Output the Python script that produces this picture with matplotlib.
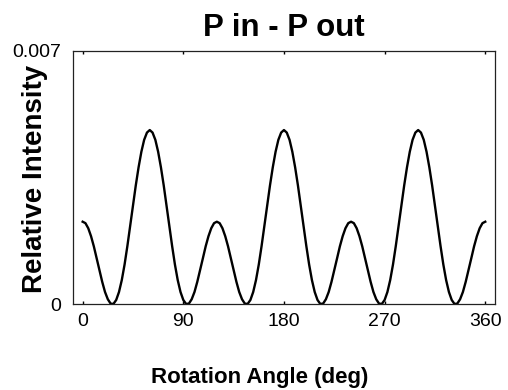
import matplotlib
matplotlib.use("Agg")
import matplotlib.pyplot as plt

plt.rcParams['font.family'] = ['Liberation Sans', 'DejaVu Sans']

# Rotation angle (deg), sampled every 2.5 degrees
angle = [i * 2.5 for i in range(145)]

# Relative SHG intensity, P-polarized in / P-polarized out
intensity = [
    # 0 - 117.5
    0.00228, 0.00224, 0.00210, 0.00188, 0.00160, 0.00127, 0.00094, 0.00062,
    0.00034, 0.00014, 0.00002, 0.00001, 0.00012, 0.00034, 0.00067, 0.00110,
    0.00161, 0.00216, 0.00272, 0.00328, 0.00378, 0.00421, 0.00454, 0.00474,
    0.00481, 0.00474, 0.00454, 0.00421, 0.00378, 0.00328, 0.00272, 0.00216,
    0.00161, 0.00110, 0.00067, 0.00034, 0.00012, 0.00001, 0.00002, 0.00014,
    0.00034, 0.00062, 0.00094, 0.00127, 0.00160, 0.00188, 0.00210, 0.00224,
    # 120 - 237.5
    0.00228, 0.00224, 0.00210, 0.00188, 0.00160, 0.00127, 0.00094, 0.00062,
    0.00034, 0.00014, 0.00002, 0.00001, 0.00012, 0.00034, 0.00067, 0.00110,
    0.00161, 0.00216, 0.00272, 0.00328, 0.00378, 0.00421, 0.00454, 0.00474,
    0.00481, 0.00474, 0.00454, 0.00421, 0.00378, 0.00328, 0.00272, 0.00216,
    0.00161, 0.00110, 0.00067, 0.00034, 0.00012, 0.00001, 0.00002, 0.00014,
    0.00034, 0.00062, 0.00094, 0.00127, 0.00160, 0.00188, 0.00210, 0.00224,
    # 240 - 360
    0.00228, 0.00224, 0.00210, 0.00188, 0.00160, 0.00127, 0.00094, 0.00062,
    0.00034, 0.00014, 0.00002, 0.00001, 0.00012, 0.00034, 0.00067, 0.00110,
    0.00161, 0.00216, 0.00272, 0.00328, 0.00378, 0.00421, 0.00454, 0.00474,
    0.00481, 0.00474, 0.00454, 0.00421, 0.00378, 0.00328, 0.00272, 0.00216,
    0.00161, 0.00110, 0.00067, 0.00034, 0.00012, 0.00001, 0.00002, 0.00014,
    0.00034, 0.00062, 0.00094, 0.00127, 0.00160, 0.00188, 0.00210, 0.00224,
    0.00228,
]

x_ticks = [0, 90, 180, 270, 360]
x_tick_labels = ["0", "90", "180", "270", "360"]
y_ticks = [0, 0.007]
y_tick_labels = ["0", "0.007"]

fig = plt.figure(figsize=(5.08, 3.90), dpi=100)
ax = fig.add_axes([0.1431, 0.2197, 0.8313, 0.6503])

ax.plot(angle, intensity, color="black", linewidth=1.7, solid_joinstyle="round")

ax.set_xlim(-8.9, 368.7)
ax.set_ylim(0, 0.007)

ax.set_xticks(x_ticks)
ax.set_xticklabels(x_tick_labels, fontsize=14)
ax.set_yticks(y_ticks)
ax.set_yticklabels(y_tick_labels, fontsize=14)
ax.tick_params(axis="x", direction="in", length=2, width=1, pad=6,
               top=True, bottom=True)
ax.tick_params(axis="y", length=0, pad=8)

for s in ax.spines.values():
    s.set_linewidth(0.9)
    s.set_color("#222222")

fig.text(0.558, 1 - 36 / 390, "P in - P out", fontsize=22.5, fontweight="bold",
         ha="center", va="baseline")
fig.text(0.068, 0.54, "Relative Intensity", fontsize=20, fontweight="bold",
         rotation=90, ha="center", va="center")
fig.text(0.511, 1 - 383 / 390, "Rotation Angle (deg)", fontsize=16,
         fontweight="bold", ha="center", va="baseline")

fig.savefig("out.png", dpi=100)
